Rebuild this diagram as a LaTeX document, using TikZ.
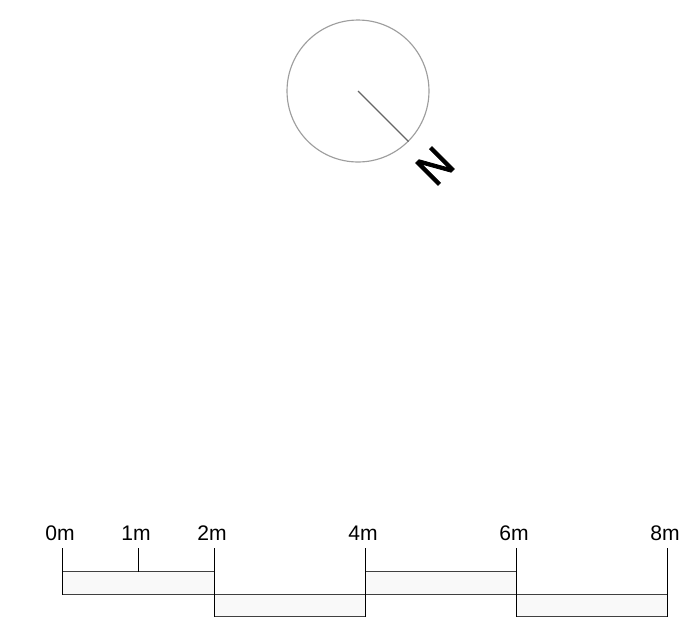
\documentclass[tikz,border=0pt]{standalone}
\usepackage{fontspec}
\setmainfont{Liberation Sans}
\newfontfamily\northfont[FakeBold=2]{Liberation Sans}
\definecolor{barfill}{HTML}{F9F9F9}
\tikzset{
  scalebar/.style={draw=black!75, fill=barfill, line width=.75pt, minimum width=#1, inner sep=0pt, outer sep=0pt},
  upperbar/.style={scalebar=#1, minimum height=.46cm},
  lowerbar/.style={scalebar=#1, minimum height=.44cm},
  ticklabel/.style={font=\fontsize{12}{14}\selectfont, anchor=base, inner sep=0pt, xshift=-.05cm},
  tickline/.style={draw=black, line width=.6pt}
}
\begin{document}
\begin{tikzpicture}[x=.02cm, y=-.02cm]
\useasboundingbox (0,0) rectangle (700,630);
% north arrow
\node [circle, draw=black!38, line width=.65pt, minimum size=2.84cm, inner sep=0pt] (compass) at (358,91) {};
\draw [black!60, line width=.65pt] (compass.center) -- (compass.-45);
\node [rotate=-135, inner sep=0pt, font=\northfont\fontsize{26}{30}\selectfont, xscale=.9, transform shape] (north) at (435,166) {N};
% bars of the scale
\node [upperbar=3.04cm] (bara) at (138.5,583) {};
\node [lowerbar=3.02cm] (barb) at (290,605.5) {};
\node [upperbar=3.02cm] (barc) at (441,583) {};
\node [lowerbar=3.02cm] (bard) at (592,605.5) {};
% ticks and their labels
\foreach \name/\x/\txt/\y in {a/62.5/0m/594.5, c/138.5/1m/571.5, d/214.5/2m/616.5, e/365.5/4m/616.5, f/516.5/6m/616.5, g/667.5/8m/616.5}{
  \coordinate (top\name) at (\x,548);
  \coordinate (foot\name) at (\x,\y);
  \draw [tickline] (top\name) -- (foot\name);
  \node [ticklabel] (label\name) at (\x,540.5) {\txt};
}
\end{tikzpicture}
\end{document}
